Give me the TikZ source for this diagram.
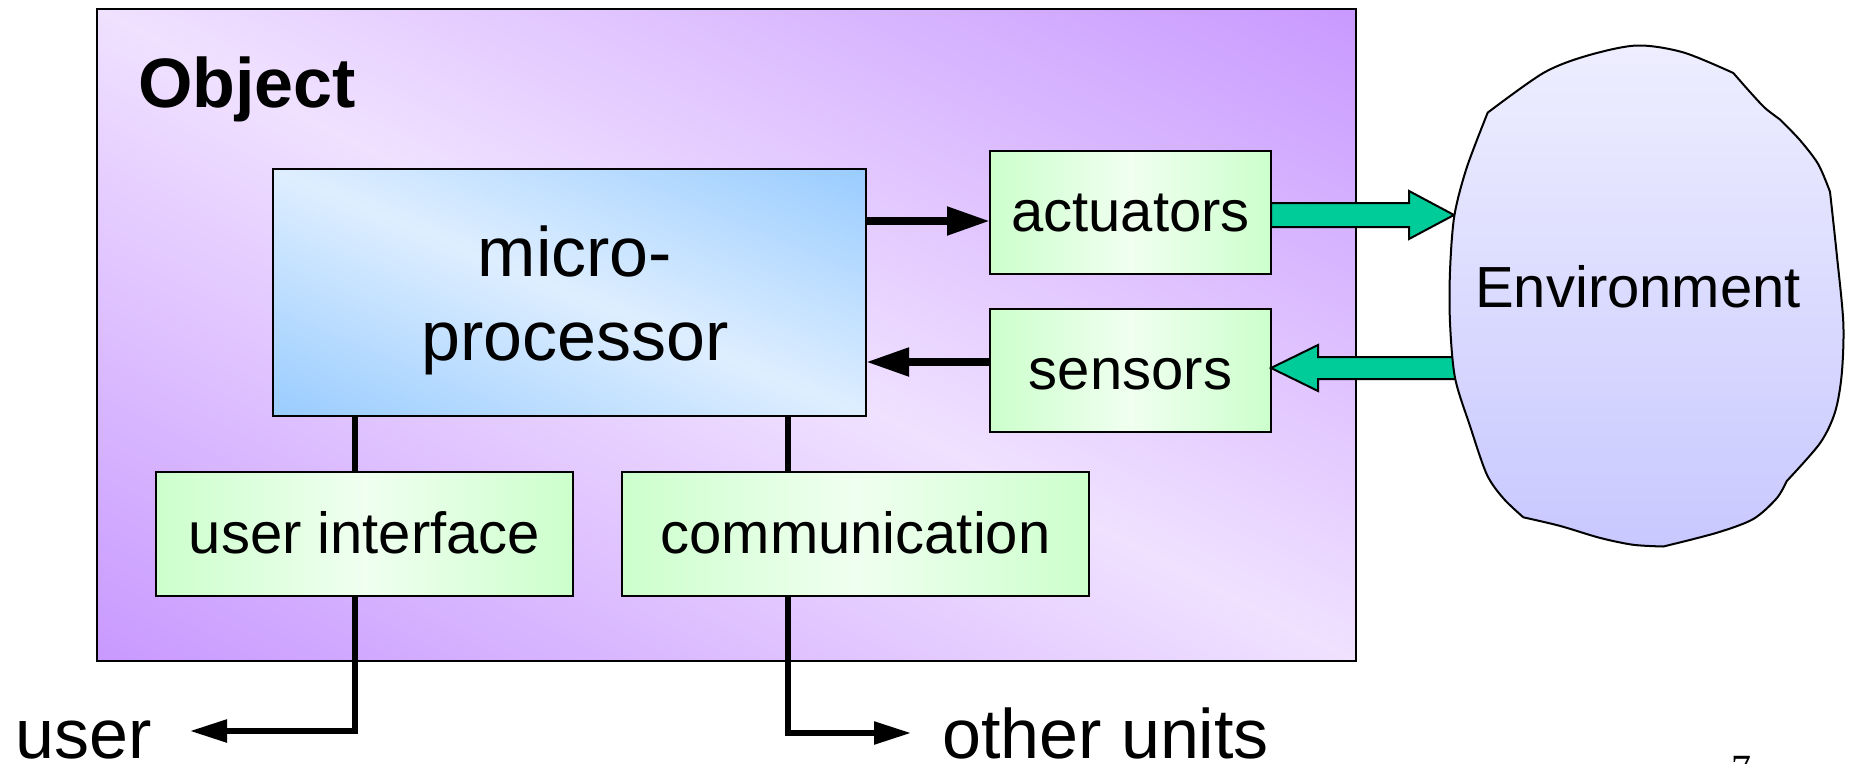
\documentclass[tikz,border=0pt]{standalone}
\usepackage{fontspec}
\setmainfont{Liberation Sans}
\newfontfamily\serifnum{Liberation Serif}
\usetikzlibrary{arrows.meta,calc}
\definecolor{objpurple}{RGB}{200,153,255}
\definecolor{objlight}{RGB}{240,225,255}
\definecolor{mpblue}{RGB}{153,204,255}
\definecolor{mplight}{RGB}{222,238,255}
\definecolor{boxgreen}{RGB}{204,255,204}
\definecolor{boxlight}{RGB}{240,255,240}
\definecolor{envtop}{RGB}{238,238,255}
\definecolor{envbot}{RGB}{200,200,255}
\definecolor{arrgreen}{RGB}{0,204,153}
\begin{document}
\begin{tikzpicture}[x=1pt,y=-1pt,
  framebox/.style={draw=black,line width=2pt,inner sep=0pt,outer sep=0pt,anchor=north west},
  greenbox/.style={draw=black,line width=2pt,inner sep=0pt,outer sep=0pt,anchor=north west,
    left color=boxgreen,right color=boxgreen,middle color=boxlight,
    font=\fontsize{58}{70}\selectfont,text height=41pt,text depth=3pt},
  bigtext/.style={font=\fontsize{70}{84}\selectfont,inner sep=0pt},
  bigarrow/.style={line width=8pt,-{Triangle[length=43pt,width=27pt]}},
  conn/.style={line width=5.5pt},
  lowarrow/.style={line width=5.5pt,-{Triangle[length=37pt,width=22pt]}},
  blockarrow/.style={draw=black,line width=2pt,fill=arrgreen,line join=miter},
  cloud/.style={draw=black,line width=2pt,top color=envtop,bottom color=envbot}
]
\useasboundingbox (0,0) rectangle (1852,763);

% diagonal shadings (corner to corner)
\shade[transform canvas={cm={629.5,-326,629.5,326,(726.5,335)}},
  top color=objpurple,bottom color=objpurple,middle color=objlight]
  (0,1) -- (1,0) -- (0,-1) -- (-1,0) -- cycle;
\shade[transform canvas={cm={296.5,-123.5,296.5,123.5,(569.5,292.5)}},
  top color=mpblue,bottom color=mpblue,middle color=mplight]
  (0,1) -- (1,0) -- (0,-1) -- (-1,0) -- cycle;

% Object frame
\node[framebox,minimum width=1259pt,minimum height=652pt] (obj) at (97,9) {};
\node[anchor=base west,inner sep=0pt,font=\bfseries\fontsize{70}{84}\selectfont] (objlabel) at (138,107) {Object};

% inner boxes
\node[framebox,minimum width=593pt,minimum height=247pt] (mp) at (273,169) {};
\node[bigtext,align=center] (mptext) at (575,300) {micro-\\processor};
\node[greenbox,minimum width=281pt,minimum height=123pt] (act) at (990,151) {actuators};
\node[greenbox,minimum width=281pt,minimum height=123pt] (sen) at (990,309) {sensors};
\node[greenbox,minimum width=417pt,minimum height=124pt] (ui) at (156,472) {user interface};
\node[greenbox,minimum width=467pt,minimum height=124pt] (comm) at (622,472) {communication};

% black connectors
\draw[bigarrow] (mp.east |- 0,221) -- (act.west |- 0,221);
\draw[bigarrow] (sen.west |- 0,362) -- (mp.east |- 0,362);
\draw[conn] (mp.south -| 355,0) -- (ui.north -| 355,0);
\draw[conn] (mp.south -| 788,0) -- (comm.north -| 788,0);

\coordinate (touser) at (190,731);
\coordinate (toother) at (911,733);
\draw[lowarrow] (ui.south -| 355,0) |- (touser);
\draw[lowarrow] (comm.south -| 788,0) |- (toother);

% green block arrows
\coordinate (envin) at (1454,215);
\coordinate (envout) at (1465,368);
\draw[blockarrow] (act.east |- 0,203) -- (1409,203) -- (1409,191) -- (envin)
   -- (1409,239) -- (1409,227) -- (act.east |- 0,227) -- cycle;
\draw[blockarrow] (sen.east |- 0,368) -- (1318,345) -- (1318,357) -- (envout |- 0,357)
   -- (envout |- 0,379) -- (1318,379) -- (1318,391) -- cycle;

% Environment cloud (freeform outline with slight corners)
\path[cloud,line join=round]
  plot[smooth,tension=0.5] coordinates {(1487.7,112.6) (1543.3,73) (1586.7,55.8) (1636.7,45.5) (1683.3,52.4) (1733.3,73)}
  -- plot[smooth,tension=0.5] coordinates {(1733.3,73) (1750,92) (1765,108) (1780,119.5)}
  -- plot[smooth,tension=0.5] coordinates {(1780,119.5) (1800,140.2) (1818.3,164.3) (1830,191.8)}
  -- plot[smooth,tension=0.5] coordinates {(1830,191.8) (1836.7,253.8) (1843.3,322.7) (1841.7,374.4) (1835,412.2) (1820,443.2) (1786.7,481.1)}
  -- plot[smooth,tension=0.5] coordinates {(1786.7,481.1) (1776.7,498.3) (1753.3,519) (1716.7,532.8) (1663.3,546.5)}
  -- plot[smooth,tension=0.5] coordinates {(1663.3,546.5) (1633.3,544.8) (1600,537.9) (1560,525.9) (1523.3,517.3)}
  -- plot[smooth,tension=0.5] coordinates {(1523.3,517.3) (1503.3,498.3) (1486.7,474.2) (1470,426) (1455,377.8) (1450,322.7) (1450,271) (1454.3,216) (1466.7,167.7) (1487.7,112.6)}
  -- cycle;
\node[anchor=base,inner sep=0pt,font=\fontsize{58}{70}\selectfont] (env) at (1638,307) {Environment};

% outside labels
\node[bigtext,anchor=base east] (user) at (152,758) {user};
\node[bigtext,anchor=base west] (other) at (942,758) {other units};
\node[anchor=base,inner sep=0pt,font=\serifnum\fontsize{40}{48}\selectfont] (pagenum) at (1741,782) {7};
\end{tikzpicture}
\end{document}
